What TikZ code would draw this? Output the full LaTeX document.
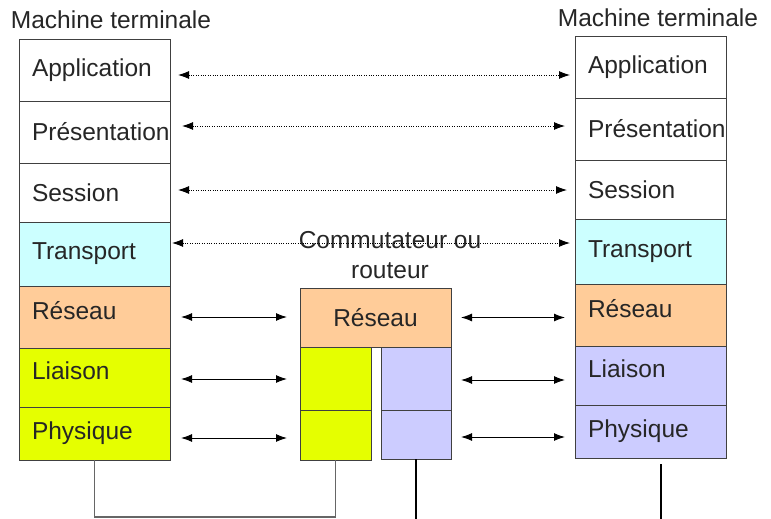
\documentclass[tikz,border=0pt]{standalone}
\usepackage{fontspec}
\setmainfont{Liberation Sans}
\usetikzlibrary{arrows.meta,positioning}

\definecolor{transportcol}{RGB}{204,255,255}
\definecolor{reseaucol}{RGB}{255,204,153}
\definecolor{liaisoncol}{RGB}{229,255,0}
\definecolor{physcol}{RGB}{204,204,255}

\begin{document}
\begin{tikzpicture}[x=1pt,y=-1pt,>={Latex[length=11pt,width=8pt]},
  layer node/.style={rectangle,draw=black!75,line width=1pt,outer sep=0pt,
    minimum width=151pt,text width=125pt,inner xsep=13pt,inner ysep=0pt,
    align=left,text=black!85,font=\fontsize{24.5}{29}\selectfont},
  high text/.style={text height=18pt,text depth=14pt},
  title node/.style={text=black!85,font=\fontsize{24.5}{30}\selectfont,align=center},
  peer link/.style={<->,line width=0.9pt,dash pattern=on 1pt off 1.4pt},
  hop link/.style={<->,line width=1pt},
  wire/.style={draw=black!60,line width=1.2pt}]

  \useasboundingbox (0,0) rectangle (771,519);

  % machine de gauche
  \node[title node] (ltitle) at (111,20) {Machine terminale};
  \node[layer node,minimum height=61pt] (lapp) at (94.5,70.5) {Application};
  \node[layer node,minimum height=62pt,below=0pt of lapp] (lpres) {Présentation};
  \node[layer node,minimum height=59pt,below=0pt of lpres] (lsess) {Session};
  \node[layer node,minimum height=64pt,fill=transportcol,below=0pt of lsess] (ltrans) {Transport};
  \node[layer node,high text,minimum height=62pt,fill=reseaucol,below=0pt of ltrans] (lres) {Réseau};
  \node[layer node,high text,minimum height=59pt,fill=liaisoncol,below=0pt of lres] (llia) {Liaison};
  \node[layer node,minimum height=53pt,fill=liaisoncol,below=0pt of llia] (lphy) {Physique};

  % machine de droite
  \node[title node] (rtitle) at (658,18) {Machine terminale};
  \node[layer node,minimum height=61pt] (rapp) at (650.5,67.5) {Application};
  \node[layer node,minimum height=62pt,below=0pt of rapp] (rpres) {Présentation};
  \node[layer node,minimum height=59pt,below=0pt of rpres] (rsess) {Session};
  \node[layer node,minimum height=65pt,fill=transportcol,below=0pt of rsess] (rtrans) {Transport};
  \node[layer node,high text,minimum height=62pt,fill=reseaucol,below=0pt of rtrans] (rres) {Réseau};
  \node[layer node,high text,minimum height=59pt,fill=physcol,below=0pt of rres] (rlia) {Liaison};
  \node[layer node,minimum height=53pt,fill=physcol,below=0pt of rlia] (rphy) {Physique};

  % commutateur ou routeur
  \node[title node] (mtitle) at (390,255) {Commutateur ou\\routeur};
  \node[layer node,minimum height=59pt,fill=reseaucol,align=center] (mres) at (375.5,317.5) {Réseau};
  \node[layer node,minimum width=71pt,text width=45pt,minimum height=63pt,fill=liaisoncol,
    below right=0pt and 0pt of mres.south west] (mlia1) {};
  \node[layer node,minimum width=71pt,text width=45pt,minimum height=50pt,fill=liaisoncol,
    below=0pt of mlia1] (mphy1) {};
  \node[layer node,minimum width=70pt,text width=44pt,minimum height=63pt,fill=physcol,
    below left=0pt and 0pt of mres.south east] (mlia2) {};
  \node[layer node,minimum width=70pt,text width=44pt,minimum height=49pt,fill=physcol,
    below=0pt of mlia2] (mphy2) {};

  % dialogues de bout en bout
  \draw[peer link,shorten <=8pt,shorten >=5pt]
    ([yshift=-4.5pt]lapp.east) -- ([yshift=-4.5pt]lapp.east -| rapp.west);
  \draw[peer link,shorten <=12pt,shorten >=10pt]
    ([yshift=6pt]lpres.east) -- ([yshift=6pt]lpres.east -| rpres.west);
  \draw[peer link,shorten <=8pt,shorten >=8pt]
    ([yshift=2.5pt]lsess.east) -- ([yshift=2.5pt]lsess.east -| rsess.west);
  \draw[peer link,shorten <=2pt,shorten >=5pt]
    ([yshift=11pt]ltrans.east) -- ([yshift=11pt]ltrans.east -| rtrans.west);

  % dialogues de proche en proche
  \draw[hop link,shorten <=11pt,shorten >=13pt] (lres.east) -- (lres.east -| mres.west);
  \draw[hop link,shorten <=11pt,shorten >=13pt] ([yshift=-1.5pt]llia.east) -- ([yshift=-1.5pt]llia.east -| mlia1.west);
  \draw[hop link,shorten <=11pt,shorten >=13pt] ([yshift=-4.5pt]lphy.east) -- ([yshift=-4.5pt]lphy.east -| mphy1.west);
  \draw[hop link,shorten <=10pt,shorten >=10pt] (mres.east) -- (mres.east -| rres.west);
  \draw[hop link,shorten <=10pt,shorten >=10pt] ([yshift=-1.5pt]mlia2.east) -- ([yshift=-1.5pt]mlia2.east -| rlia.west);
  \draw[hop link,shorten <=10pt,shorten >=10pt] ([yshift=-2.5pt]mphy2.east) -- ([yshift=-2.5pt]mphy2.east -| rphy.west);

  % supports physiques
  \draw[wire] (lphy.south) -- ++(0,57) -| (mphy1.south);
  \draw[wire,draw=black] (mphy2.south) -- ++(0,60);
  \draw[wire,draw=black] ([xshift=10.5pt,yshift=-6pt]rphy.south) -- ++(0,55);
\end{tikzpicture}
\end{document}
